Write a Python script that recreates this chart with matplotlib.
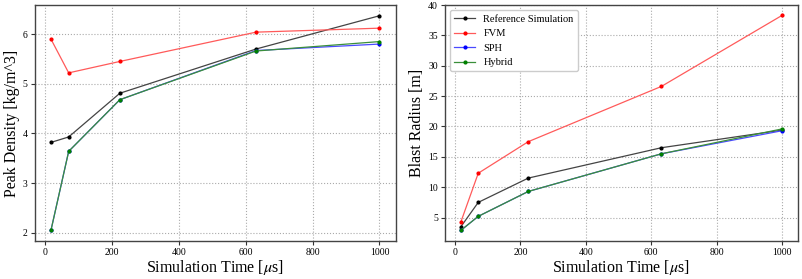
import matplotlib.pyplot as plt
import numpy as np

plt.rcParams['font.family'] = ['Liberation Serif', 'DejaVu Serif']
plt.rcParams['mathtext.fontset'] = 'stix'

time_us = [18, 71, 224, 631, 1000]
labels = ['Reference Simulation', 'FVM', 'SPH', 'Hybrid']
colors = ['black', 'red', 'blue', 'green']
line_colors = ['#444444', '#ff5a5a', '#4a4aff', '#3a8f3a']

# peak density [kg/m^3]
dens_ref = [3.82, 3.93, 4.81, 5.70, 6.37]
dens_fvm = [5.90, 5.22, 5.45, 6.04, 6.12]
dens_sph = [2.05, 3.64, 4.68, 5.67, 5.80]
dens_hyb = [2.05, 3.64, 4.68, 5.66, 5.85]

# blast radius [m]
rad_ref = [3.5, 7.5, 11.5, 16.5, 19.4]
rad_fvm = [4.3, 12.3, 17.5, 26.6, 38.3]
rad_sph = [2.9, 5.2, 9.3, 15.5, 19.3]
rad_hyb = [2.9, 5.2, 9.3, 15.5, 19.6]

fig = plt.figure(figsize=(8.03, 2.79), dpi=100)
ax1 = fig.add_axes([0.043, 0.136, 0.450, 0.846])
ax2 = fig.add_axes([0.554, 0.136, 0.440, 0.846])

def draw(ax, series, ylabel):
    for ys, lab, c, lc in zip(series, labels, colors, line_colors):
        ax.plot(time_us, ys, '-', color=lc, lw=0.9, label=lab,
                marker='.', ms=4, mfc=c, mec=c)
    ax.grid(True, linestyle=':', color='#aaaaaa', lw=0.8)
    ax.set_xlabel(r'Simulation Time [$\mu$s]', fontsize=11.5, labelpad=1)
    ax.set_ylabel(ylabel, fontsize=11.5, labelpad=2)
    ax.tick_params(labelsize=7, length=3, pad=2, color='#333333')
    ax.set_xticks([0, 200, 400, 600, 800, 1000])
    for s in ax.spines.values():
        s.set_color('#444444')
        s.set_linewidth(1.0)

draw(ax1, [dens_ref, dens_fvm, dens_sph, dens_hyb], 'Peak Density [kg/m^3]')
draw(ax2, [rad_ref, rad_fvm, rad_sph, rad_hyb], 'Blast Radius [m]')
ax2.set_ylim(top=40)
ax2.set_yticks([5, 10, 15, 20, 25, 30, 35, 40])
ax2.legend(loc='upper left', fontsize=7.5, framealpha=1, edgecolor='#cccccc')

fig.savefig('out.png', dpi=100)
